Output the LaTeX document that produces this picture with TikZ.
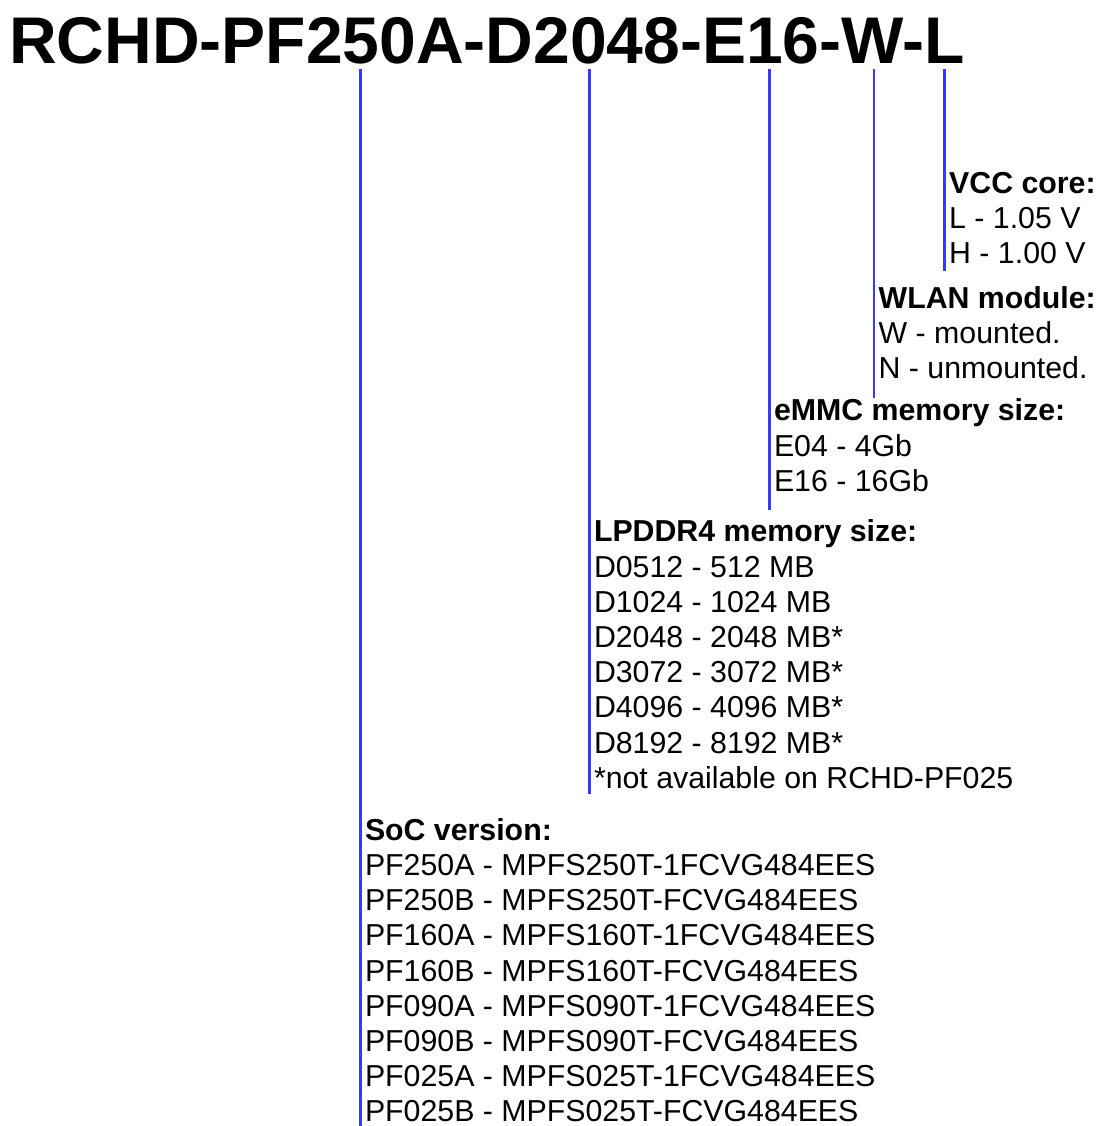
\documentclass[tikz,border=0pt]{standalone}
\usepackage{fontspec}
\setmainfont{Liberation Sans}
\definecolor{tickblue}{RGB}{56,56,255}

\begin{document}
\begin{tikzpicture}[x=1pt, y=-1pt,
    partno/.style={inner sep=0pt, anchor=base west, font=\fontsize{66}{70}\selectfont\bfseries},
    field/.style={inner xsep=4.5pt, inner ysep=0pt, anchor=north west, align=left, font=\fontsize{30.3}{35.2}\selectfont},
    tick/.style={draw=tickblue, line width=2.4pt}]
                \useasboundingbox (0,0) rectangle (1099,1126);
                \node[partno] (code) at (9,63.3) {RCHD-PF250A-D2048-E16-W-L};
                % field descriptions
                \node[field] (vcc) at (944.5,168.7) {\strut\textbf{VCC core:}\\
                    \strut L - 1.05 V\\
                    \strut H - 1.00 V};
                \node[field] (wlan) at (874,283.7) {\strut\textbf{WLAN module:}\\
                    \strut W - mounted.\\
                    \strut N - unmounted.};
                \node[field] (emmc) at (769.3,396.1) {\strut\textbf{eMMC memory size:}\\
                    \strut E04 - 4Gb\\
                    \strut E16 - 16Gb};
                \node[field] (ddr) at (589.3,517.1) {\strut\textbf{LPDDR4 memory size:}\\
                    \strut D0512 - 512 MB\\
                    \strut D1024 - 1024 MB\\
                    \strut D2048 - 2048 MB*\\
                    \strut D3072 - 3072 MB*\\
                    \strut D4096 - 4096 MB*\\
                    \strut D8192 - 8192 MB*\\
                    \strut *not available on RCHD-PF025};
                \node[field] (soc) at (360.3,815.4) {\strut\textbf{SoC version:}\\
                    \strut PF250A - MPFS250T-1FCVG484EES\\
                    \strut PF250B - MPFS250T-FCVG484EES\\
                    \strut PF160A - MPFS160T-1FCVG484EES\\
                    \strut PF160B - MPFS160T-FCVG484EES\\
                    \strut PF090A - MPFS090T-1FCVG484EES\\
                    \strut PF090B - MPFS090T-FCVG484EES\\
                    \strut PF025A - MPFS025T-1FCVG484EES\\
                    \strut PF025B - MPFS025T-FCVG484EES};
                % ticks from the part number down to each field
                \draw[tick] ([yshift=-5pt]code.south -| vcc.west) -- ([yshift=4pt]vcc.south west);
                \draw[tick] ([yshift=-5pt]code.south -| wlan.west) -- ([yshift=-8pt]wlan.south west);
                \draw[tick] ([yshift=-5pt]code.south -| emmc.west) -- ([yshift=-7.6pt]emmc.south west);
                \draw[tick] ([yshift=-5pt]code.south -| ddr.west) -- ([yshift=4.7pt]ddr.south west);
                \draw[tick] ([yshift=-5pt]code.south -| soc.west) -- ([yshift=6pt]soc.south west);
            \end{tikzpicture}
\end{document}
